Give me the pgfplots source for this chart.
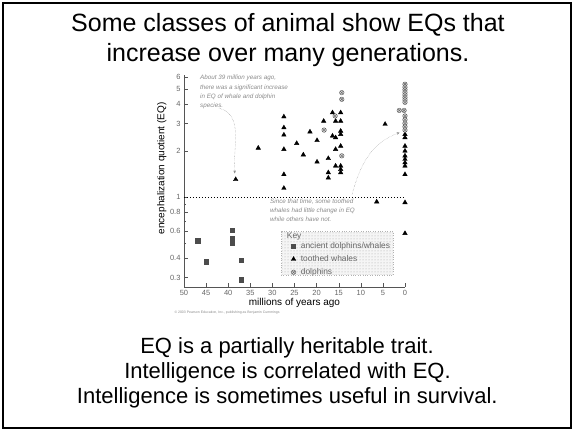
\documentclass[border=0pt]{standalone}
\usepackage{fontspec}
\setmainfont{Liberation Sans}
\usepackage{pgfplots}
\pgfplotsset{compat=1.18}
\usetikzlibrary{patterns,arrows.meta}
\definecolor{axgray}{HTML}{555555}
\definecolor{txgray}{HTML}{666666}
\definecolor{antgray}{HTML}{8A8A8A}
\begin{document}
\begin{tikzpicture}
\useasboundingbox (0pt,0pt) rectangle (574pt,431pt);
\draw[line width=2pt] (3pt,3pt) rectangle (571pt,428pt);
% title
\node[anchor=base, font=\fontsize{25}{30}\selectfont] at (288pt,399pt) {Some classes of animal show EQs that};
\node[anchor=base, font=\fontsize{25}{30}\selectfont] at (288pt,369pt) {increase over many generations.};
% bottom text
\node[anchor=base, font=\fontsize{22}{26}\selectfont] at (287pt,77.7pt) {EQ is a partially heritable trait.};
\node[anchor=base, font=\fontsize{22}{26}\selectfont] at (287.5pt,52.7pt) {Intelligence is correlated with EQ.};
\node[anchor=base, font=\fontsize{22}{26}\selectfont] at (287.3pt,27.7pt) {Intelligence is sometimes useful in survival.};
% tiny credit
\node[anchor=west, font=\fontsize{3.5}{4}\selectfont, text=antgray] at (171pt,118pt) {© 2003 Pearson Education, Inc., publishing as Benjamin Cummings};
\begin{axis}[
  at={(184pt,144pt)}, anchor=south west,
  scale only axis, width=221pt, height=212pt,
  xmin=0, xmax=50, x dir=reverse,
  ymode=log, ymin=0.26, ymax=6.2,
  axis lines=left, axis line style={draw=axgray, -},
  tick align=inside, tick style={axgray},
  major tick length=4pt, minor tick length=2.5pt,
  xtick={0,5,...,50}, xticklabels={0,5,10,15,20,25,30,35,40,45,50},
  ytick={0.3,0.4,0.6,0.8,1,2,3,4,5,6},
  yticklabels={0.3,0.4,0.6,0.8,1,2,3,4,5,6},
  minor ytick={0.5,0.7,0.9},
  ticklabel style={font=\fontsize{7.5}{8}\selectfont, text=txgray},
  xlabel={millions of years ago}, ylabel={encephalization quotient (EQ)},
  label style={font=\fontsize{8.5}{9}\selectfont, text=txgray},
  every axis x label/.style={at={(axis description cs:0.5,-0.075)}, anchor=center},
  every axis y label/.style={at={(axis description cs:-0.1,0.56)}, rotate=90, anchor=center},
  clip=false,
  legend style={at={(rel axis cs:0.48,0.226)}, anchor=north west, draw=none, fill=none,
    font=\fontsize{8.4}{9}\selectfont, text=txgray, row sep=1.5pt, column sep=4pt, inner sep=1pt,
    nodes={inner xsep=1pt}},
  legend cell align=left,
  legend image code/.code={\draw[mark repeat=2,mark phase=2] plot coordinates {(0cm,0cm)(0.14cm,0cm)(0.28cm,0cm)};},
]
% key box
\fill[gray!8] (rel axis cs:0.442,0.057) rectangle (rel axis cs:0.946,0.261);
\fill[pattern=dots, pattern color=gray!70] (rel axis cs:0.442,0.057) rectangle (rel axis cs:0.946,0.261);
\draw[gray!60, dotted] (rel axis cs:0.442,0.057) rectangle (rel axis cs:0.946,0.261);
\node[anchor=west, font=\fontsize{8.4}{9}\selectfont, text=txgray, inner sep=0pt] at (rel axis cs:0.465,0.236) {Key};
% EQ = 1 line
\addplot[black, dash pattern=on 1.5pt off 1.5pt, forget plot] coordinates {(50,1) (0,1)};
% ancient dolphins / whales
\addplot[only marks, mark=square*, mark size=2.1pt, color=gray!60!black] coordinates {
(46.9,0.52) (45.0,0.38) (39.1,0.61) (39.1,0.54) (39.1,0.50) (37.1,0.39) (37.1,0.29)};
\addlegendentry{ancient dolphins/whales}
% toothed whales
\addplot[only marks, mark=triangle*, mark size=2.6pt, color=black] coordinates {
(38.3,1.30) (33.2,2.08)
(27.4,3.32) (27.4,2.82) (27.4,2.53) (27.4,2.04) (27.4,1.40) (27.4,1.14)
(24.5,2.23) (23.0,1.88) (21.5,2.65) (19.9,2.33) (19.9,1.69) (18.4,3.11)
(17.35,1.78) (17.35,1.44) (17.35,1.33) (16.4,3.53) (16.4,2.49)
(15.7,3.11) (15.7,2.43) (15.7,2.04) (15.7,1.59)
(14.55,3.53) (14.55,3.11) (14.55,2.68) (14.55,2.55) (14.55,2.14) (14.55,1.59) (14.55,1.51) (14.55,1.44)
(6.4,0.93) (4.5,2.97)
(0,2.55) (0,2.43) (0,2.14) (0,1.99) (0,1.85) (0,1.76) (0,1.67) (0,1.59) (0,1.40) (0,0.92) (0,0.58)};
\addlegendentry{toothed whales}
% dolphins
\addplot[only marks, mark=otimes*, mark size=2.3pt, mark options={fill=gray!30, draw=gray!75!black}] coordinates {
(18.3,2.72) (15.8,3.36) (14.3,4.76) (14.3,4.31) (14.3,1.85)
(0,5.40) (0,5.17) (0,4.97) (0,4.78) (0,4.60) (0,4.43) (0,4.27) (0,4.12)
(1.3,3.65) (0.2,3.65) (0,3.36) (0,3.18) (0,3.01) (0,2.86) (0,2.72)};
\addlegendentry{dolphins}
% annotations
\node[anchor=north west, align=left, font=\fontsize{6.3}{9.4}\itshape, text=antgray, inner sep=0pt]
  at (rel axis cs:0.072,1.0) {About 39 million years ago,\\there was a significant increase\\in EQ of whale and dolphin\\species.};
\draw[antgray, densely dotted, -{Stealth[length=3pt,width=2.5pt]}] (axis cs:42.1,3.78) to[out=-15,in=95] (axis cs:38.5,1.42);
\node[anchor=north west, align=left, font=\fontsize{6.3}{9.4}\itshape, text=antgray, inner sep=0pt]
  at (rel axis cs:0.389,0.418) {Since that time, some toothed\\whales had little change in EQ\\while others have not.};
\draw[antgray, densely dotted, -{Stealth[length=3pt,width=2.5pt]}] (axis cs:12.0,1.03) to[out=75,in=200] (axis cs:1.2,2.62);
\end{axis}
\end{tikzpicture}
\end{document}
